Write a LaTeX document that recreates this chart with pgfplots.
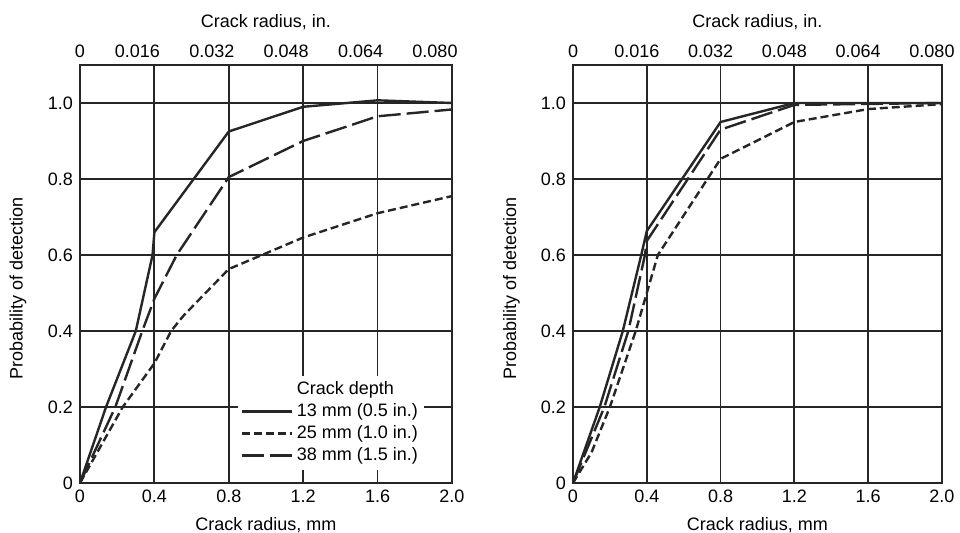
\documentclass[border=0pt]{standalone}
\usepackage{fontspec}
\setmainfont{Liberation Sans}
\usepackage{pgfplots}
\pgfplotsset{compat=1.18}

\pgfplotsset{
  every axis/.append style={font=\fontsize{9}{10.5}\selectfont},
  podframe/.style={
    scale only axis,
    height=209pt,
    xmin=0, xmax=2.0, ymin=0, ymax=1.1,
    major tick length=0pt,
    axis line style={black!85, line width=0.9pt},
    /pgf/number format/assume math mode=true,
  },
  podmain/.style={
    podframe,
    xtick={0,0.4,0.8,1.2,1.6,2.0},
    xticklabels={0,0.4,0.8,1.2,1.6,2.0},
    ytick={0,0.2,0.4,0.6,0.8,1.0},
    yticklabels={0,0.2,0.4,0.6,0.8,1.0},
    grid=major,
    grid style={black!85, line width=0.9pt},
    xlabel={Crack radius, mm},
    ylabel={Probability of detection},
    xlabel style={at={(axis description cs:0.5,-0.1)}, anchor=center},
    ylabel style={at={(axis description cs:-0.167,0.466)}, anchor=center},
  },
  podtop/.style={
    podframe,
    axis x line*=top, axis y line=none,
    xtick={0,0.4,0.8,1.2,1.6,2.0},
    xlabel={Crack radius, in.},
    xlabel style={at={(axis description cs:0.5,1.103)}, anchor=center},
  },
  solidline/.style={black!85, line width=1.2pt},
  shortdash/.style={black!85, line width=1.2pt, dash pattern=on 4pt off 2pt},
  longdash/.style={black!85, line width=1.2pt, dash pattern=on 11pt off 3pt},
}

\begin{document}
\begin{tikzpicture}
\path[use as bounding box] (-40pt,-25pt) rectangle (440pt,241.5pt);

% left panel
\begin{axis}[podmain, width=186pt, at={(0pt,0pt)}, anchor=south west,
    legend cell align=left,
    legend image code/.code={\draw[#1] (0pt,0pt) -- (25pt,0pt);},
    legend style={at={(0.425,0.258)}, anchor=north west, fill=white,
        draw=none, inner sep=1pt, row sep=-1pt,
        font=\fontsize{9}{10.5}\selectfont},
]
\addlegendimage{empty legend}
\addlegendentry{Crack depth}

% 13 mm
\addplot[solidline] coordinates {
    (0,0) (0.14,0.2) (0.30,0.40) (0.39,0.60) (0.40,0.66)
    (0.8,0.925) (1.2,0.99) (1.6,1.007) (2.0,1.0)
};
\addlegendentry{13 mm (0.5 in.)}

% 25 mm
\addplot[shortdash] coordinates {
    (0,0) (0.23,0.2) (0.40,0.315) (0.49,0.40) (0.556,0.44)
    (0.8,0.563) (1.2,0.646) (1.6,0.71) (2.0,0.755)
};
\addlegendentry{25 mm (1.0 in.)}

% 38 mm
\addplot[longdash] coordinates {
    (0,0) (0.19,0.2) (0.335,0.40) (0.40,0.485) (0.52,0.60)
    (0.8,0.805) (1.2,0.90) (1.6,0.965) (2.0,0.983)
};
\addlegendentry{38 mm (1.5 in.)}
\end{axis}

\begin{axis}[podtop, width=186pt, at={(0pt,0pt)}, anchor=south west,
    xticklabels={\makebox[0pt][l]{\hspace{6pt}0},0.016,0.032,0.048,0.064,0.080},
    xticklabel style={xshift=-8.5pt},
]
\end{axis}

% right panel
\begin{axis}[podmain, width=184.5pt, at={(246.5pt,0pt)}, anchor=south west]
% 13 mm
\addplot[solidline] coordinates {
    (0,0) (0.145,0.2) (0.27,0.40) (0.37,0.60) (0.40,0.663)
    (0.8,0.95) (1.2,1.0) (2.0,1.0)
};
% 25 mm
\addplot[shortdash] coordinates {
    (0,0) (0.10,0.08) (0.20,0.2) (0.34,0.40) (0.46,0.60)
    (0.8,0.853) (1.2,0.95) (1.6,0.984) (2.0,0.997)
};
% 38 mm
\addplot[longdash] coordinates {
    (0,0) (0.17,0.2) (0.30,0.40) (0.39,0.60) (0.40,0.637)
    (0.8,0.93) (1.2,0.995) (2.0,1.0)
};
\end{axis}

\begin{axis}[podtop, width=184.5pt, at={(246.5pt,0pt)}, anchor=south west,
    xticklabels={\makebox[0pt][l]{\hspace{2.5pt}0},0.016,0.032,0.048,0.064,0.080},
    xticklabel style={xshift=-5pt},
]
\end{axis}

\end{tikzpicture}
\end{document}
